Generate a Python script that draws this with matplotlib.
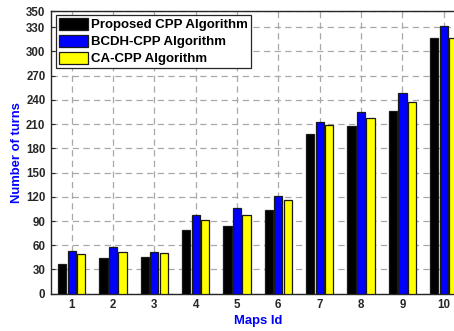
import numpy as np
import matplotlib
matplotlib.use("Agg")
import matplotlib.pyplot as plt

plt.rcParams["font.family"] = ["Liberation Sans", "DejaVu Sans"]

# ── Data ───────────────────────────────────────────────────────
maps_id = [1, 2, 3, 4, 5, 6, 7, 8, 9, 10]
proposed = [37, 44, 46, 79, 84, 104, 198, 208, 226, 316]
bcdh = [53, 58, 52, 98, 106, 121, 213, 225, 248, 331]
ca_cpp = [49, 52, 51, 91, 98, 116, 209, 218, 237, 317]
series_labels = ["Proposed CPP Algorithm", "BCDH-CPP Algorithm", "CA-CPP Algorithm"]
y_ticks = [0, 30, 60, 90, 120, 150, 180, 210, 240, 270, 300, 330, 350]

colors = ["#000000", "#0000ff", "#ffff00"]
dark = "#262626"

fig = plt.figure(figsize=(4.54, 3.31), dpi=100)
ax = fig.add_axes([0.1123, 0.1127, 0.9106, 0.854])

x = np.array(maps_id)
width = 0.2
offsets = [-0.228, 0.0, 0.228]
for vals, off, col, lab in zip([proposed, bcdh, ca_cpp], offsets, colors, series_labels):
    ax.bar(x + off, vals, width, color=col, edgecolor="#1a1a1a",
           linewidth=0.9, label=lab, zorder=3)

ax.set_xlim(0.5, 10.5)
ax.set_ylim(0, 350)
ax.set_xticks(maps_id)
ax.set_yticks(y_ticks)
ax.tick_params(direction="in", length=3, width=0.8, colors=dark,
               labelsize=8.3, pad=4)
for t in ax.get_xticklabels() + ax.get_yticklabels():
    t.set_fontweight("bold")
    t.set_color(dark)

ax.grid(True, color="#a8a8a8", linestyle=(0, (5, 3.5)), linewidth=0.9, zorder=0)
ax.set_axisbelow(True)
for sp in ax.spines.values():
    sp.set_color(dark)
    sp.set_linewidth(1.0)

ax.set_xlabel("Maps Id", color="#0000ff", fontweight="bold", fontsize=9.4, labelpad=3)
ax.set_ylabel("Number of turns", color="#0000ff", fontweight="bold", fontsize=9.4,
              labelpad=2)

leg = ax.legend(loc="upper left", bbox_to_anchor=(0.006, 0.995), fancybox=False,
                framealpha=1, edgecolor=dark,
                prop={"weight": "bold", "size": 9.5},
                handlelength=2.2, handleheight=1.0, handletextpad=0.25,
                labelspacing=0.28, borderpad=0.2, borderaxespad=0.2)
leg.get_frame().set_linewidth(0.9)

fig.savefig("out.png", dpi=100)
